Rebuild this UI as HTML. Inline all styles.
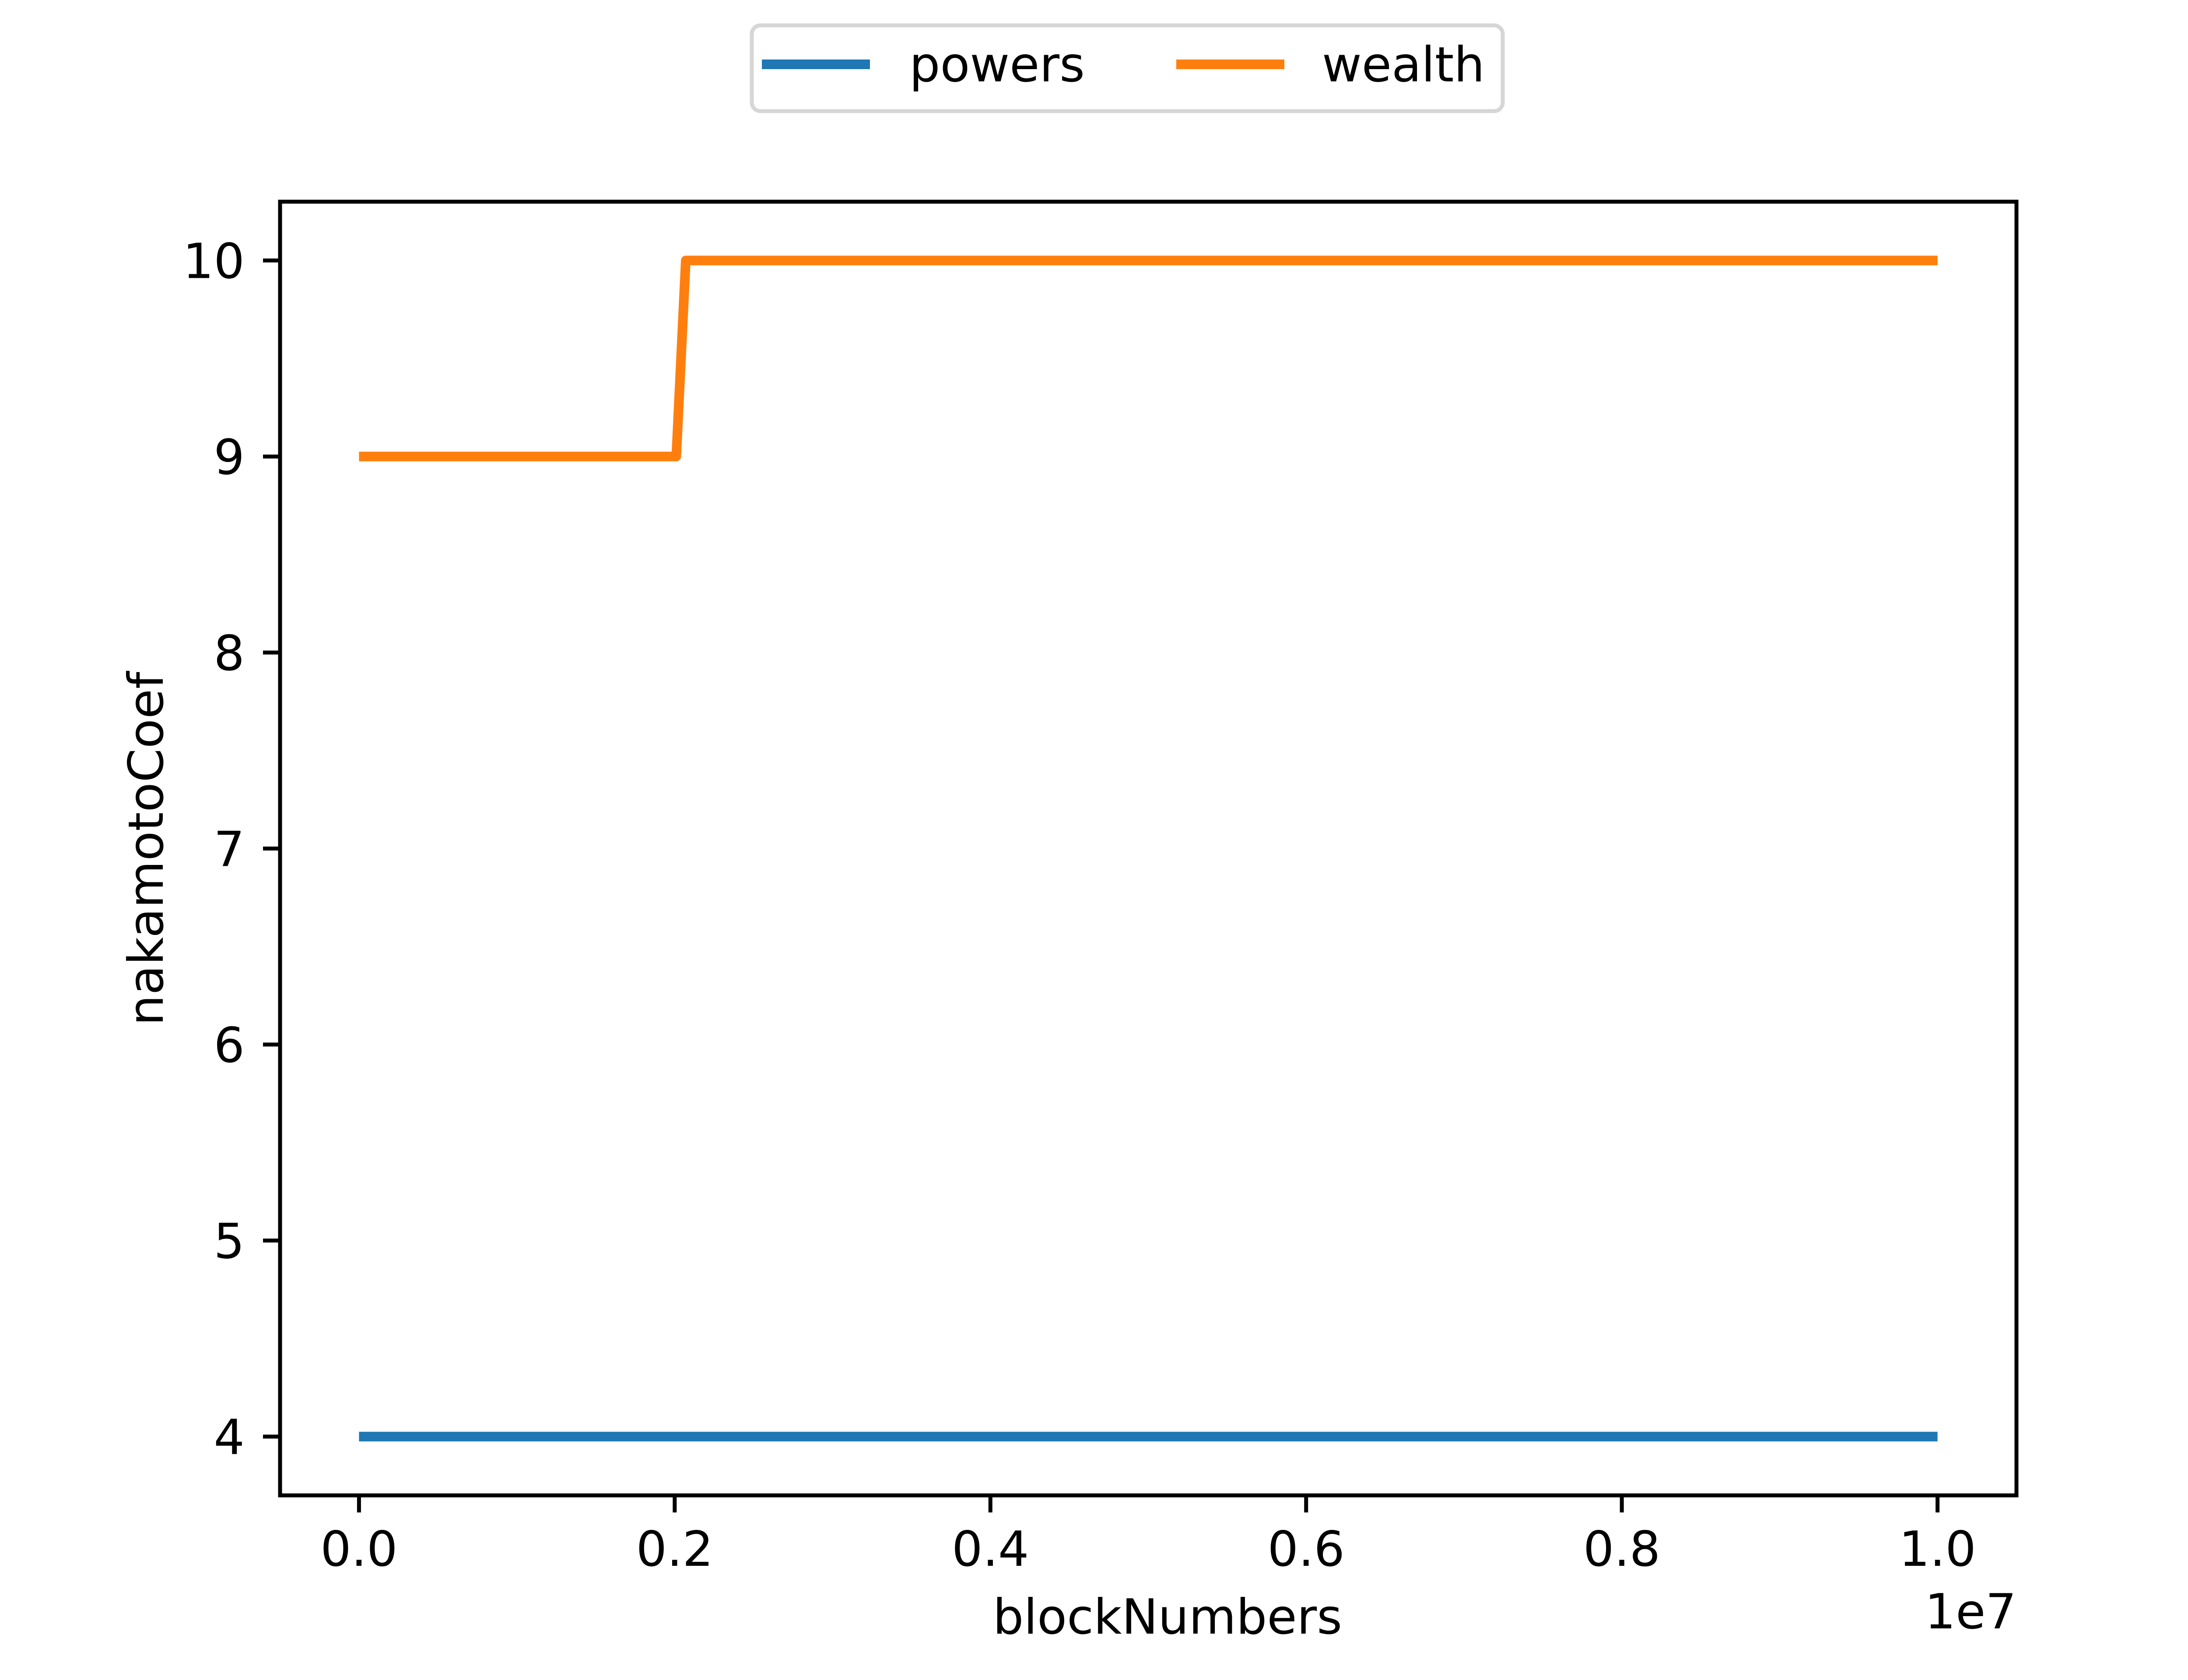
<!DOCTYPE html>
<html><head><meta charset="utf-8"><style>
html,body{margin:0;padding:0;background:#fff}
svg{display:block}
text{font-family:"DejaVu Sans","Liberation Sans",sans-serif;font-size:111px;fill:#000}
</style></head><body>
<svg id="chart" width="5120" height="3840" viewBox="0 0 5120 3840" xmlns="http://www.w3.org/2000/svg">
<rect x="0" y="0" width="5120" height="3840" fill="#fff"/>
<g id="plot"></g>
<g id="axes"></g>
<text x="2668" y="3734" text-anchor="middle">blockNumbers</text>
<text x="4608" y="3722" text-anchor="end">1e7</text>
<text transform="translate(372,1940) rotate(-90)" text-anchor="middle">nakamotoCoef</text>
<g>
<rect x="1718" y="58" width="1716" height="196" rx="20" fill="#fff" stroke="#d6d6d6" stroke-width="9"/>
<line x1="1741" y1="147" x2="1988" y2="147" stroke="#1f77b4" stroke-width="22"/>
<text x="2078" y="186">powers</text>
<line x1="2688" y1="147" x2="2935" y2="147" stroke="#ff7f0e" stroke-width="22"/>
<text x="3021" y="186">wealth</text>
</g>
</svg>
<script>
const xValues = [0, 2010000, 2070000, 10000000];
const powersValues = [4, 4, 4, 4];
const wealthValues = [9, 9, 10, 10];
const xTicks = [0, 2000000, 4000000, 6000000, 8000000, 10000000];
const xTickLabels = ["0.0", "0.2", "0.4", "0.6", "0.8", "1.0"];
const yTicks = [4, 5, 6, 7, 8, 9, 10];
const yTickLabels = ["4", "5", "6", "7", "8", "9", "10"];

const L = 640, R = 4608, T = 461, B = 3418;
const xMin = -500000, xMax = 10500000, yMin = 3.7, yMax = 10.3;
function xs(v){ return L + (v - xMin) / (xMax - xMin) * (R - L); }
function ys(v){ return B - (v - yMin) / (yMax - yMin) * (B - T); }
const NS = "http://www.w3.org/2000/svg";
const plot = document.getElementById('plot');
const axes = document.getElementById('axes');
function mk(tag, attrs, parent){ const e = document.createElementNS(NS, tag); for (const k in attrs) e.setAttribute(k, attrs[k]); parent.appendChild(e); return e; }

function series(vals, color, name){
  const pts = xValues.map((x, i) => xs(x).toFixed(1) + ',' + ys(vals[i]).toFixed(1)).join(' ');
  const p = mk('polyline', {points: pts, fill: 'none', stroke: color, 'stroke-width': 22, 'stroke-linejoin': 'round', 'stroke-linecap': 'butt'}, plot);
  
  
}
series(powersValues, '#1f77b4', 'powers-line');
series(wealthValues, '#ff7f0e', 'wealth-line');

const frame = mk('rect', {x: L, y: T, width: R - L, height: B - T, fill: 'none', stroke: '#000', 'stroke-width': 9}, axes);



xTicks.forEach((v, i) => {
  const x = xs(v);
  const t = mk('line', {x1: x, y1: B, x2: x, y2: B + 39, stroke: '#000', 'stroke-width': 9}, axes);
  
  
  const lb = mk('text', {x: x, y: 3579, 'text-anchor': 'middle'}, axes);
  lb.textContent = xTickLabels[i];
  
  
});
yTicks.forEach((v, i) => {
  const y = ys(v);
  const t = mk('line', {x1: L - 39, y1: y, x2: L, y2: y, stroke: '#000', 'stroke-width': 9}, axes);
  
  
  const lb = mk('text', {x: 559, y: y + 40, 'text-anchor': 'end'}, axes);
  lb.textContent = yTickLabels[i];
  
  
});
</script>
</body></html>
